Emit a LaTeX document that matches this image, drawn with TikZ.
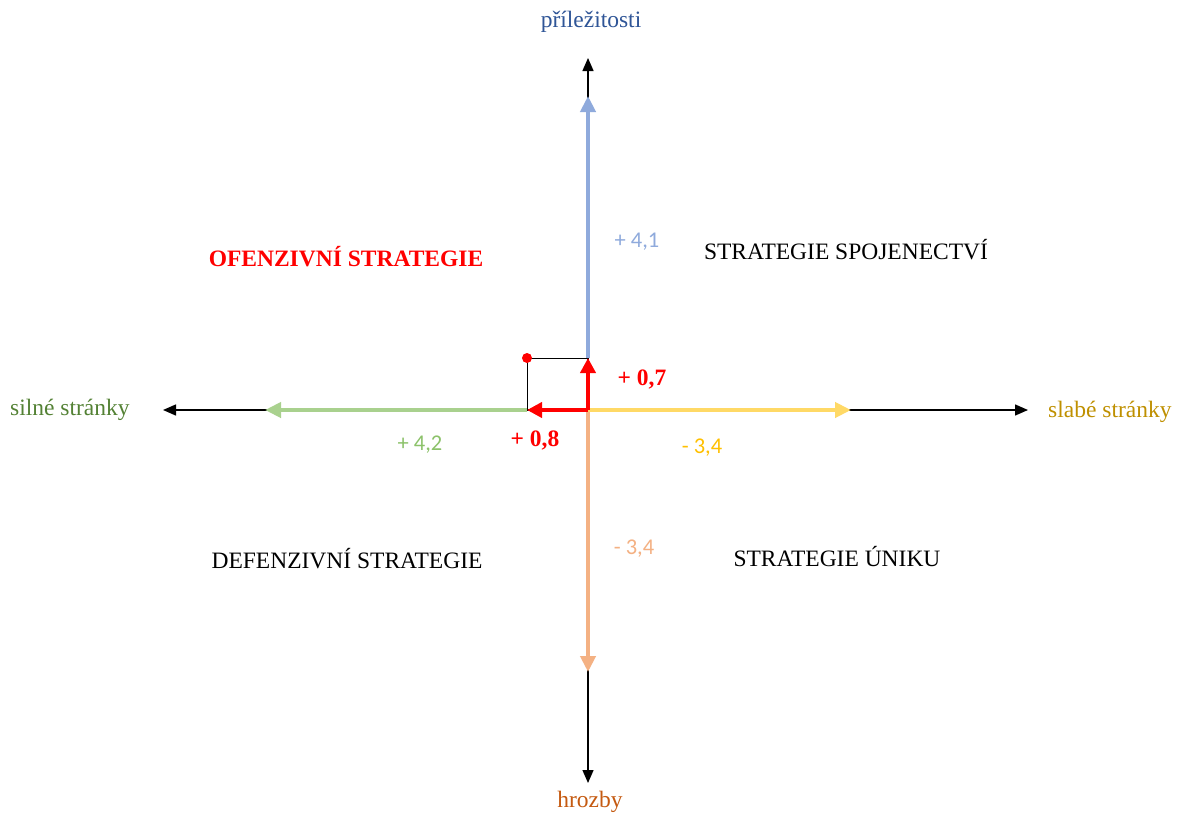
\documentclass[tikz,border=0pt]{standalone}
\usepackage{fontspec}
\setmainfont{Liberation Serif}
\newfontfamily\calibri{Carlito}
\usetikzlibrary{arrows.meta}
\definecolor{oppBlue}{HTML}{8FAADC}
\definecolor{oppText}{HTML}{2F5597}
\definecolor{strGreen}{HTML}{A9D18E}
\definecolor{strText}{HTML}{548235}
\definecolor{weakYellow}{HTML}{FFD966}
\definecolor{weakText}{HTML}{BF9000}
\definecolor{numYellow}{HTML}{FFC000}
\definecolor{thrOrange}{HTML}{F4B183}
\definecolor{thrText}{HTML}{C55A11}
\definecolor{numGreen}{HTML}{8CC26A}
\definecolor{redA}{HTML}{FF0000}
\tikzset{
  axis/.style={draw=black, line width=1.4pt, -{Triangle[length=13pt,width=11pt]}},
  colarrow/.style={line width=4pt},
  redarrow/.style={draw=redA, line width=4pt, -{Triangle[length=15pt,width=15pt]}},
  lbl/.style={font=\fontsize{23.5pt}{26pt}\selectfont, inner sep=0pt},
  num/.style={font=\fontsize{22.5pt}{25pt}\selectfont\calibri, inner sep=0pt},
  rednum/.style={font=\fontsize{23.5pt}{26pt}\selectfont\bfseries, text=redA, inner sep=0pt}
}
\begin{document}
\begin{tikzpicture}[x=1pt,y=-1pt]
\useasboundingbox[fill=white] (0,0) rectangle (1180,816);
% key points
\coordinate (O) at (588,410);
\coordinate (N) at (588,58);
\coordinate (S) at (588,783);
\coordinate (W) at (163,410);
\coordinate (E) at (1028,410);
\coordinate (Nc) at (588,96);
\coordinate (Sc) at (588,672);
\coordinate (Wc) at (265,410);
\coordinate (Ec) at (851,410);
\coordinate (Ry) at (588,358);
\coordinate (Rx) at (527,410);
\coordinate (P) at (527,358);
% black axes
\draw[axis] (O) -- (N);
\draw[axis] (O) -- (S);
\draw[axis] (O) -- (W);
\draw[axis] (O) -- (E);
% coloured vectors
\draw[colarrow, draw=oppBlue, -{Triangle[length=16pt,width=15pt,fill=oppBlue]}] (Ry) -- (Nc);
\draw[colarrow, draw=thrOrange, -{Triangle[length=16pt,width=15pt,fill=thrOrange]}] (O) -- (Sc);
\draw[colarrow, draw=strGreen, -{Triangle[length=16pt,width=15pt,fill=strGreen]}] (Rx) -- (Wc);
\draw[colarrow, draw=weakYellow, -{Triangle[length=16pt,width=15pt,fill=weakYellow]}] (O) -- (Ec);
% resultant
\draw[line width=0.8pt] (P) -- (Ry);
\draw[line width=0.8pt] (P) -- (Rx);
\draw[redarrow] (O) -- (Ry);
\draw[redarrow] (O) -- (Rx);
\fill[redA] (P) circle (5pt);
% axis labels
\node[lbl, text=oppText] (lopp) at (591,22) {příležitosti};
\node[lbl, text=strText, anchor=west] (lstr) at (10,410) {silné stránky};
\node[lbl, text=weakText, anchor=west] (lweak) at (1048,412) {slabé stránky};
\node[lbl, text=thrText] (lthr) at (590,802) {hrozby};
% values
\node[num, text=oppBlue] (v1) at (637,242) {+ 4,1};
\node[num, text=numGreen] (v2) at (420,445) {+ 4,2};
\node[num, text=numYellow] (v3) at (702,448) {- 3,4};
\node[num, text=thrOrange] (v4) at (634,549) {- 3,4};
\node[rednum] (r1) at (642,380) {+ 0,7};
\node[rednum] (r2) at (535,440) {+ 0,8};
% quadrant labels
\node[lbl, font=\fontsize{23.5pt}{26pt}\selectfont\bfseries, text=redA] (q1) at (346,257) {OFENZIVNÍ STRATEGIE};
\node[lbl] (q2) at (846,250) {STRATEGIE SPOJENECTVÍ};
\node[lbl] (q3) at (347,559) {DEFENZIVNÍ STRATEGIE};
\node[lbl] (q4) at (837,557) {STRATEGIE ÚNIKU};
\end{tikzpicture}
\end{document}
